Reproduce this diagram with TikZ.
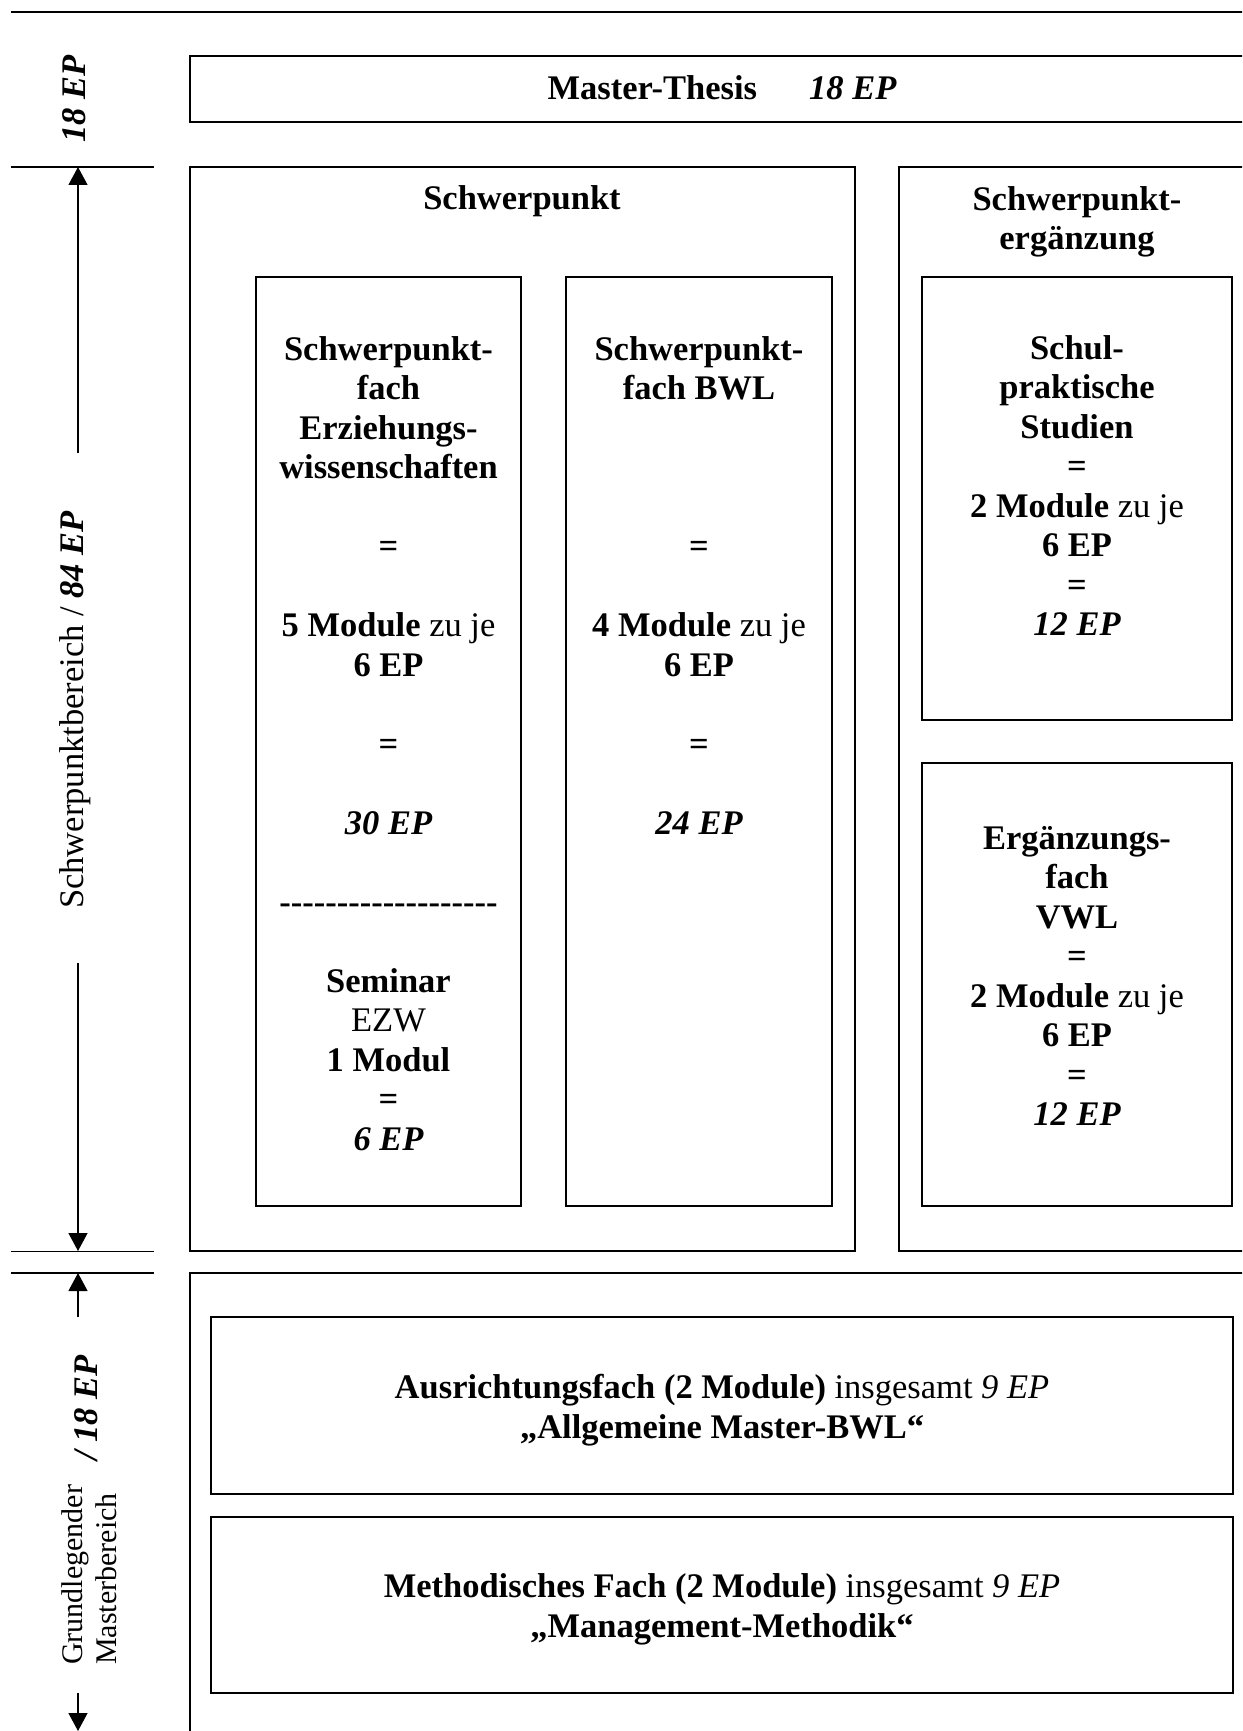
\documentclass[tikz,border=0pt]{standalone}
\usepackage{fontspec}
\setmainfont{Liberation Serif}
\usetikzlibrary{arrows.meta}
\newcommand\dsh{\mbox{-}}
\newcommand\dashline{\dsh\dsh\dsh\dsh\dsh\dsh\dsh\dsh\dsh\dsh\dsh\dsh\dsh\dsh\dsh\dsh\dsh\dsh\dsh}
\begin{document}
\begin{tikzpicture}[x=1pt,y=-1pt,
  box/.style={draw, line width=1.5pt},
  rule/.style={line width=1.5pt},
  arr/.style={line width=1.2pt, -{Triangle[length=18pt,width=19pt]}},
  txt/.style={font=\fontsize{34.5}{39.5}\selectfont\bfseries, align=center, inner sep=0pt},
  wide/.style={font=\fontsize{34.5}{40}\selectfont\bfseries, align=center, inner sep=0pt},
  lab/.style={font=\fontsize{34.5}{39.5}\selectfont, inner sep=0pt, rotate=90}]
\useasboundingbox (0,0) rectangle (1242,1731);
\clip (0,0) rectangle (1242,1731);
% rules on the left
\draw[rule] (11,12) -- (1260,12);
\draw[rule] (11,167) -- (154,167);
\draw[rule] (11,1251.5) -- (154,1251.5);
\draw[rule] (11,1273) -- (154,1273);
% boxes
\draw[box] (190,56) rectangle (1260,122);
\draw[box] (190,167) rectangle (855,1251);
\draw[box] (899,167) rectangle (1260,1251);
\draw[box] (256,277) rectangle (521,1206);
\draw[box] (566,277) rectangle (832,1206);
\draw[box] (922,277) rectangle (1232,720);
\draw[box] (922,763) rectangle (1232,1206);
\draw[box] (190,1273) rectangle (1260,1780);
\draw[box] (211,1317) rectangle (1233,1494);
\draw[box] (211,1517) rectangle (1233,1693);
% texts (anchor=base is the baseline of the last line)
\node[txt, anchor=base] (thesis) at (722,100) {Master-Thesis\hspace{52pt}\itshape 18 EP};
\node[txt, anchor=base] (sp) at (522,210) {Schwerpunkt};
\node[txt, anchor=base] (spe) at (1077,249.5) {Schwerpunkt-\\ergänzung};
\node[txt, anchor=base] (ezw) at (388.5,1150) {Schwerpunkt-\\fach\\Erziehungs-\\wissenschaften\\\mbox{}\\=\\\mbox{}\\5 Module {\mdseries zu je}\\6 EP\\\mbox{}\\=\\\mbox{}\\{\itshape 30 EP}\\\mbox{}\\\dashline\\\mbox{}\\Seminar\\{\mdseries EZW}\\1 Modul\\=\\{\itshape 6 EP}};
\node[txt, anchor=base] (bwl) at (699,834) {Schwerpunkt-\\fach BWL\\\mbox{}\\\mbox{}\\\mbox{}\\=\\\mbox{}\\4 Module {\mdseries zu je}\\6 EP\\\mbox{}\\=\\\mbox{}\\{\itshape 24 EP}};
\node[txt, anchor=base] (sps) at (1077,635.5) {Schul-\\praktische\\Studien\\=\\2 Module {\mdseries zu je}\\6 EP\\=\\{\itshape 12 EP}};
\node[txt, anchor=base] (vwl) at (1077,1125.5) {Ergänzungs-\\fach\\VWL\\=\\2 Module {\mdseries zu je}\\6 EP\\=\\{\itshape 12 EP}};
\node[wide, anchor=base] (af) at (722,1438) {Ausrichtungsfach (2 Module) {\mdseries insgesamt \itshape 9 EP}\\„Allgemeine Master-BWL“};
\node[wide, anchor=base] (mf) at (722,1637) {Methodisches Fach (2 Module) {\mdseries insgesamt \itshape 9 EP}\\„Management-Methodik“};
% left labels
\node[lab, anchor=base] (l1) at (85,99) {\bfseries\itshape 18 EP};
\node[lab, anchor=base] (l2) at (83,710) {Schwerpunktbereich / \textbf{\textit{84 EP}}};
\node[lab, anchor=base] (l3) at (97,1408) {\bfseries\itshape / 18 EP};
\node[lab, anchor=south west, align=left, font=\fontsize{30}{34}\selectfont] (l4) at (117,1665) {Grundlegender\\Masterbereich};
% arrows
\coordinate (a1s) at (78,453);
\coordinate (a1e) at (78,167);
\coordinate (a2s) at (78,963);
\coordinate (a2e) at (78,1251);
\coordinate (a3s) at (78,1317);
\coordinate (a3e) at (78,1273);
\coordinate (a4s) at (78,1693);
\coordinate (a4e) at (78,1731);
\draw[arr] (a1s) -- (a1e);
\draw[arr] (a2s) -- (a2e);
\draw[arr] (a3s) -- (a3e);
\draw[arr] (a4s) -- (a4e);
\end{tikzpicture}
\end{document}
